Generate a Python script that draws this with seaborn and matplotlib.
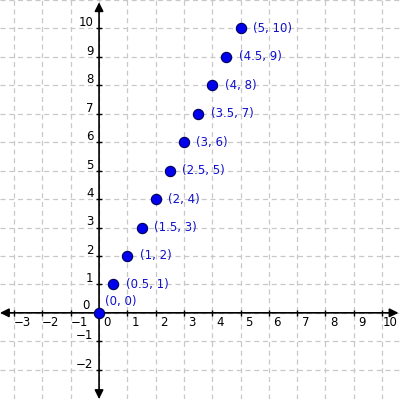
import numpy as np
import pandas as pd
import matplotlib
matplotlib.use('Agg')
import matplotlib.pyplot as plt
import seaborn as sns

# points y = 2x
xVals = [0, 0.5, 1, 1.5, 2, 2.5, 3, 3.5, 4, 4.5, 5]
yVals = [0, 1, 2, 3, 4, 5, 6, 7, 8, 9, 10]
pointLabels = ['(0, 0)', '(0.5, 1)', '(1, 2)', '(1.5, 3)', '(2, 4)', '(2.5, 5)',
               '(3, 6)', '(3.5, 7)', '(4, 8)', '(4.5, 9)', '(5, 10)']

xTicks = [-3, -2, -1, 0, 1, 2, 3, 4, 5, 6, 7, 8, 9, 10]
yTicks = [-2, -1, 0, 1, 2, 3, 4, 5, 6, 7, 8, 9, 10]

if __name__ == "__main__":

    sns.set_style('white')
    plt.rcParams['font.family'] = ['DejaVu Sans']

    d = pd.DataFrame({'x': xVals, 'y': yVals, 'label': pointLabels})

    fig = plt.figure(figsize=(4.03, 3.99), dpi=100)
    ax = fig.add_axes([0, 0, 1, 1])
    ax.set_xlim(-3.5, 10.74)
    ax.set_ylim(-3.03, 11.0)

    # dashed grid
    ax.set_xticks(xTicks)
    ax.set_yticks(yTicks + [11])
    ax.grid(True, linestyle=(0, (4, 3)), color='#c8c8c8', lw=0.9)
    ax.tick_params(length=0, labelbottom=False, labelleft=False)
    for s in ax.spines.values():
        s.set_visible(False)

    # axes with arrows
    ax.annotate('', xy=(10.58, 0), xytext=(-3.5, 0),
                arrowprops=dict(arrowstyle='<|-|>', color='k', lw=1.2,
                                mutation_scale=13, shrinkA=0, shrinkB=0))
    ax.annotate('', xy=(0, 10.92), xytext=(0, -3.03),
                arrowprops=dict(arrowstyle='<|-|>', color='k', lw=1.2,
                                mutation_scale=13, shrinkA=0, shrinkB=0))

    # small ticks on the axes
    ax.plot(xTicks, [0]*len(xTicks), ls='none', marker='|', ms=4, color='k', mew=1)
    ax.plot([0]*len(yTicks), yTicks, ls='none', marker='_', ms=4, color='k', mew=1)

    for t in xTicks:
        lab = str(t).replace('-', '\u2212')
        ax.annotate(lab, (t, 0), xytext=(6, -7), textcoords='offset points',
                    ha='center', va='center', fontsize=8.5, color='k')
    for t in yTicks:
        if t == 0:
            ax.annotate('0', (0, 0), xytext=(-7, 5), textcoords='offset points',
                        ha='right', va='center', fontsize=8.5, color='k')
            continue
        lab = str(t).replace('-', '\u2212')
        ax.annotate(lab, (0, t), xytext=(-4, 4), textcoords='offset points',
                    ha='right', va='center', fontsize=8.5, color='k')

    sns.scatterplot(x='x', y='y', data=d, ax=ax, s=55, color='#0000ee',
                    edgecolor='#00005a', linewidth=0.8, zorder=5, legend=False)

    for i, r in d.iterrows():
        ax.annotate(r['label'], (r['x'], r['y']), xytext=(9, 0), textcoords='offset points',
                    ha='left', va='center', fontsize=8.5, color='#1010cc')
    # (0, 0) label sits above
    ax.texts[-len(d)].set_position((4, 8))

    plt.savefig('out.png', dpi=100)
    plt.close()
